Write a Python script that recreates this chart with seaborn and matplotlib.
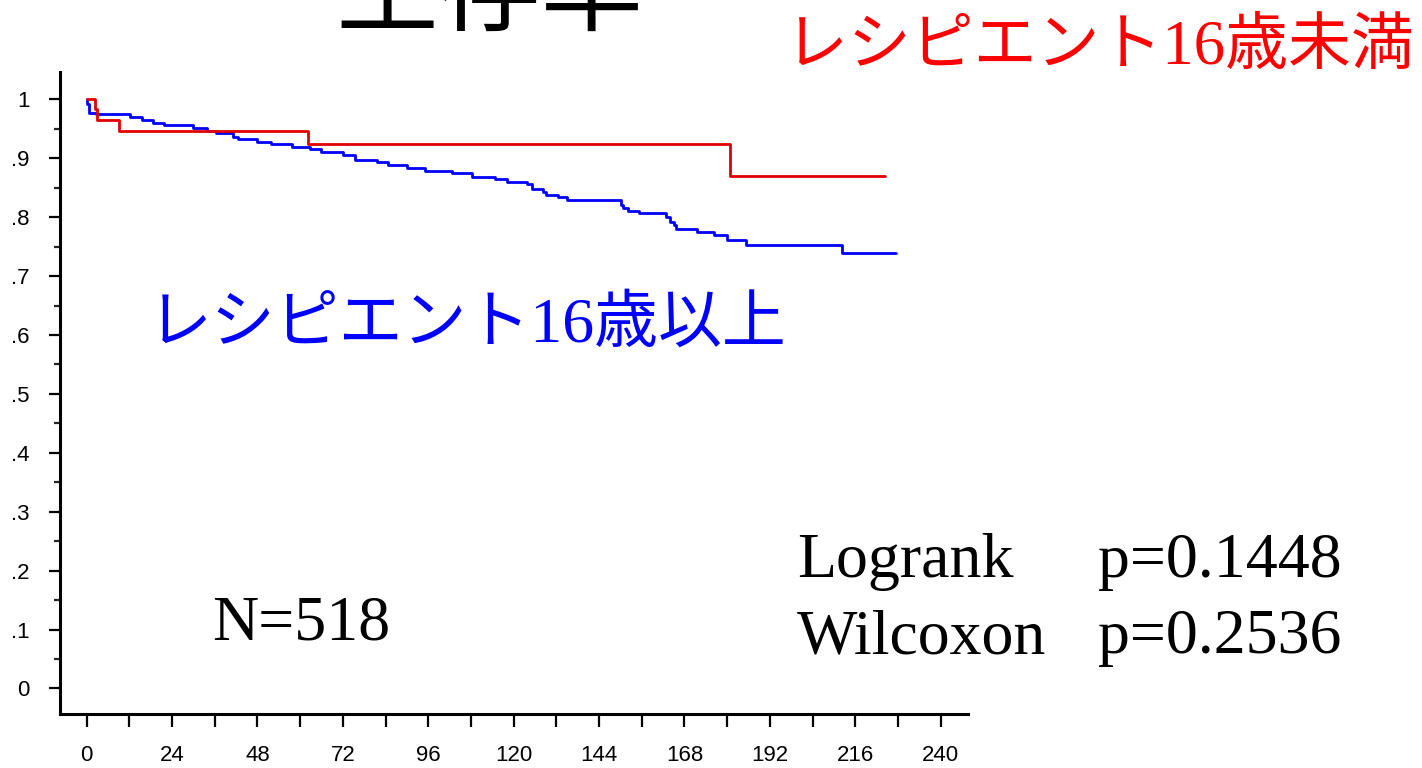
import numpy as np
import pandas as pd
import matplotlib
matplotlib.use("Agg")
import matplotlib.pyplot as plt
import seaborn as sns
from matplotlib.ticker import FixedLocator

# ---------------- data ----------------
title = "生存率"
label_under16 = "レシピエント16歳未満"
label_over16 = "レシピエント16歳以上"
n_text = "N=518"
test_names = ["Logrank", "Wilcoxon"]
p_values = ["p=0.1448", "p=0.2536"]

x_ticks = [0, 24, 48, 72, 96, 120, 144, 168, 192, 216, 240]
x_minor = [12, 36, 60, 84, 108, 132, 156, 180, 204, 228]
y_ticks = [0, 0.1, 0.2, 0.3, 0.4, 0.5, 0.6, 0.7, 0.8, 0.9, 1.0]
y_tick_labels = ["0", ".1", ".2", ".3", ".4", ".5", ".6", ".7", ".8", ".9", "1"]
y_minor = [0.05, 0.15, 0.25, 0.35, 0.45, 0.55, 0.65, 0.75, 0.85, 0.95]

# recipients under 16 (step start month, survival)
under_month = [0, 2.3, 3.0, 9.2, 62.3, 180.8, 224.4]
under_surv = [1.0, 0.984, 0.964, 0.946, 0.924, 0.869, 0.869]

# recipients 16 and over
over_month = [0, 0.2, 0.7, 2.6, 12.2, 15.5, 18.7, 21.7, 30.0, 33.7, 36.3, 41.2,
              42.6, 47.9, 51.7, 57.6, 62.8, 65.8, 72.0, 75.3, 81.5, 84.8, 89.9,
              95.1, 102.6, 108.2, 114.8, 118.0, 123.8, 125.1, 128.2, 129.1,
              132.5, 134.9, 150.1, 150.8, 152.2, 155.2, 162.8, 163.9, 165.0,
              165.6, 171.6, 176.3, 179.9, 185.2, 212.2, 227.4]
over_surv = [1.0, 0.992, 0.977, 0.9745, 0.9705, 0.965, 0.960, 0.956, 0.952,
             0.947, 0.942, 0.9365, 0.932, 0.928, 0.9236, 0.9185, 0.915, 0.9106,
             0.9055, 0.897, 0.8936, 0.888, 0.883, 0.8788, 0.8744, 0.8686,
             0.8642, 0.8601, 0.8557, 0.8472, 0.8427, 0.8376, 0.8337, 0.8291,
             0.8206, 0.815, 0.8109, 0.8065, 0.8007, 0.7922, 0.7867, 0.7793,
             0.7743, 0.7697, 0.7612, 0.7522, 0.7386, 0.7386]

df = pd.concat([
    pd.DataFrame({"month": over_month, "surv": over_surv, "group": "over"}),
    pd.DataFrame({"month": under_month, "surv": under_surv, "group": "under"}),
], ignore_index=True)

# ---------------- style ----------------
sns.set_style("ticks")
plt.rcParams["font.family"] = ["Liberation Serif", "Noto Sans CJK JP"]

W, H = 1422, 768
fig = plt.figure(figsize=(W / 100, H / 100), dpi=100)

def fx(x):
    return x / W

def fy(y):
    return 1 - y / H

ax = fig.add_axes([fx(60), fy(714.3), fx(968) - fx(60), fy(72) - fy(714.3)])

sns.lineplot(data=df, x="month", y="surv", hue="group",
             palette={"over": "#0000ff", "under": "#e00000"},
             drawstyle="steps-post", estimator=None, legend=False,
             linewidth=2.0, ax=ax)

ax.set_xlim(-7.5, 247.7)
ax.set_ylim(-0.0438, 1.0463)
ax.set_xlabel("")
ax.set_ylabel("")

sns.despine(ax=ax)
for s in ("left", "bottom"):
    ax.spines[s].set_linewidth(2.2)
    ax.spines[s].set_color("black")

ax.xaxis.set_major_locator(FixedLocator(x_ticks))
ax.xaxis.set_minor_locator(FixedLocator(x_minor))
ax.set_xticklabels([str(t) for t in x_ticks])
ax.yaxis.set_major_locator(FixedLocator(y_ticks))
ax.yaxis.set_minor_locator(FixedLocator(y_minor))
ax.set_yticklabels(y_tick_labels)

ax.tick_params(axis="x", which="both", direction="out", length=9, width=1.6,
               pad=13, labelsize=16, colors="black")
ax.tick_params(axis="y", which="major", direction="out", length=8, width=1.6,
               pad=14, labelsize=16, colors="black")
ax.tick_params(axis="y", which="minor", direction="out", length=4, width=1.6)
for lab in ax.get_xticklabels() + ax.get_yticklabels():
    lab.set_family(["Liberation Sans Narrow", "Liberation Sans"])

# ---------------- texts ----------------
mixed = ["Liberation Serif", "Noto Sans CJK JP"]
fig.text(fx(490), fy(23), title, fontsize=74, family=["Noto Sans CJK JP"],
         ha="center", va="baseline", color="black")
fig.text(fx(785), fy(64), label_under16, fontsize=45.3, family=mixed,
         ha="left", va="baseline", color="#ff0000")
fig.text(fx(148), fy(342), label_over16, fontsize=46, family=mixed,
         ha="left", va="baseline", color="#0000ff")
fig.text(fx(212), fy(640), n_text, fontsize=46, family=["Liberation Serif"],
         ha="left", va="baseline", color="black")
for i, (name, p) in enumerate(zip(test_names, p_values)):
    yb = [577, 653][i]
    fig.text(fx(797), fy(yb), name, fontsize=46, family=["Liberation Serif"],
             ha="left", va="baseline", color="black")
    fig.text(fx(1098), fy(yb), p, fontsize=46, family=["Liberation Serif"],
             ha="left", va="baseline", color="black")

fig.savefig("out.png", dpi=100)
